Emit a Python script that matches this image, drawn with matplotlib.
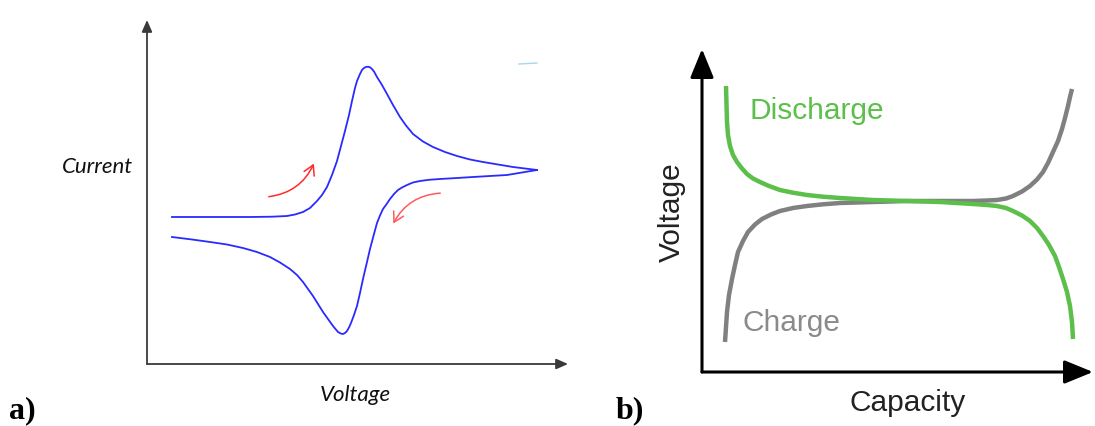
import matplotlib

matplotlib.use("Agg")
import matplotlib.pyplot as plt
from matplotlib.patches import FancyArrowPatch

W, H, DPI = 1095, 427, 100

# cyclic voltammogram, forward (oxidation) sweep
cv_fwd_v = [25, 63, 103, 125, 140, 148, 156, 163, 170, 175, 180, 185, 190, 194, 198,
            202, 205, 208, 210, 213, 215, 217, 219, 221, 223, 225, 227, 230, 235, 240,
            246, 253, 259, 266, 276, 286, 298, 310, 323, 336, 351, 366, 378, 390]
cv_fwd_i = [147, 147, 147, 147.3, 148, 149.5, 152, 156, 163, 169, 177, 189, 203, 218, 233,
            249, 263, 276, 283, 290, 294, 296, 297, 297.3, 296.7, 295, 292.5, 287, 279, 270,
            259, 247, 238.5, 230, 222.5, 217, 212, 208, 204.5, 202, 199.5, 197, 195.5, 194]

# reverse (reduction) sweep
cv_rev_v = [390, 375, 360, 343, 326, 310, 293, 282, 273, 266, 260, 255, 251, 247, 243,
            240, 236, 233, 230, 227, 223, 220, 216, 213, 210, 207, 204, 202, 200, 198,
            196, 194, 191, 188.5, 186, 181, 176, 171, 166, 161, 156, 150, 143, 133, 123,
            110, 96, 80, 63, 45, 25]
cv_rev_i = [194, 191.5, 189, 188, 187, 186, 185, 184.2, 183, 181.5, 179, 176.5, 174, 170, 165,
            160.5, 155, 148.5, 141, 130, 115, 102, 85, 71, 58, 49, 41, 36.5, 33, 31,
            30, 30.4, 32, 35, 38, 45, 52, 60, 68, 75, 82, 89, 95, 101.5, 107,
            112, 116, 119.5, 122, 124.5, 127]

# galvanostatic charge / discharge profiles
cap_dis = [24, 24.5, 25, 26, 28, 31, 35, 40, 45, 51, 58, 67, 78, 91, 105, 121, 138, 171,
           205, 238, 271, 285, 295, 304, 311, 320, 328, 335, 341, 347, 353, 357, 361, 365,
           368, 370, 371]
volt_dis = [286, 268, 250, 237, 226, 217, 210, 203.5, 198, 193.5, 190, 186, 182, 179.3, 177,
            175.3, 174, 172, 171, 170, 168, 167, 166, 164, 161, 156.5, 151, 144, 136, 127,
            116, 105, 93, 80, 66, 50, 33]
cap_chg = [23, 24, 25, 27, 30, 33, 36, 41, 46, 53, 60, 69, 78, 91, 105, 121, 138, 171,
           205, 238, 271, 285, 295, 304, 311, 320, 328, 335, 341, 346, 351, 356, 360, 363,
           366, 368, 370]
volt_chg = [30, 45, 60, 77, 93, 107, 120, 131, 140, 147.5, 153, 157.5, 161, 164, 166,
            167.7, 169, 170, 171, 171, 171, 171.5, 172, 173.5, 176, 180.5, 186, 192.5, 200, 209,
            220, 231, 243, 254, 266, 275, 283]

fig = plt.figure(figsize=(W / DPI, H / DPI), dpi=DPI)


def px_axes(x0, y0, x1, y1):
    # axes whose data units are pixels measured from its lower-left corner
    ax = fig.add_axes([x0 / W, 1 - y0 / H, (x1 - x0) / W, (y0 - y1) / H])
    ax.set_xlim(0, x1 - x0)
    ax.set_ylim(0, y0 - y1)
    ax.axis("off")
    return ax


def axis_arrows(ax, color, lw, style, scale):
    for tip in [(1, 0), (0, 1)]:
        ax.annotate("", xy=tip, xytext=(0, 0), xycoords="axes fraction",
                    arrowprops=dict(arrowstyle=style, color=color, lw=lw,
                                    mutation_scale=scale, shrinkA=0, shrinkB=0))


# a) cyclic voltammetry
ax1 = px_axes(147, 365, 568, 21)
axis_arrows(ax1, "#3a3a3a", 1.3, "-|>,head_length=0.5,head_width=0.22", 14)
ax1.plot(cv_fwd_v, cv_fwd_i, color="#2a2aff", lw=1.3, solid_joinstyle="round")
ax1.plot(cv_rev_v, cv_rev_i, color="#2a2aff", lw=1.3, solid_joinstyle="round")
ax1.plot([372, 390], [300, 301], color="#a9d6ea", lw=1.0)

ax1.add_patch(FancyArrowPatch((119, 167), (168, 203), connectionstyle="arc3,rad=0.3",
                              arrowstyle="->,head_length=0.35,head_width=0.2",
                              mutation_scale=20, color="#ff2a2a", lw=1.1))
ax1.add_patch(FancyArrowPatch((296, 171), (245, 138), connectionstyle="arc3,rad=0.3",
                              arrowstyle="->,head_length=0.35,head_width=0.2",
                              mutation_scale=20, color="#ff5a5a", lw=1.1))

ital = dict(family=["Lato", "DejaVu Sans"], style="italic", fontsize=16, color="#111111")
ax1.text(-14, 198, "Current", ha="right", va="center", **ital)
ax1.text(208, -30, "Voltage", ha="center", va="center", **ital)

# b) charge / discharge
ax2 = px_axes(702, 373, 1093, 50)
axis_arrows(ax2, "black", 2.2, "-|>,head_length=1.1,head_width=0.45", 16)
ax2.plot(cap_chg, volt_chg, color="#808080", lw=3.2, solid_capstyle="butt",
         solid_joinstyle="round")
ax2.plot(cap_dis, volt_dis, color="#5cbf4a", lw=3.2, solid_capstyle="butt",
         solid_joinstyle="round")

sans = dict(family=["Liberation Sans", "DejaVu Sans"], fontsize=21.5)
ax2.text(47, 262, "Discharge", ha="left", va="center", color="#5cbf4a", **sans)
ax2.text(40, 50, "Charge", ha="left", va="center", color="#8a8a8a", **sans)
ax2.text(-30, 161, "Voltage", ha="center", va="center", rotation=90, color="#222222", **sans)
ax2.text(206, -30, "Capacity", ha="center", va="center", color="#222222", **sans)

serif = dict(family=["Liberation Serif", "DejaVu Serif"], fontweight="bold", fontsize=23)
fig.text(9 / W, 1 - 411 / H, "a)", ha="left", va="center", **serif)
fig.text(616 / W, 1 - 411 / H, "b)", ha="left", va="center", **serif)

fig.savefig("out.png", dpi=DPI)
